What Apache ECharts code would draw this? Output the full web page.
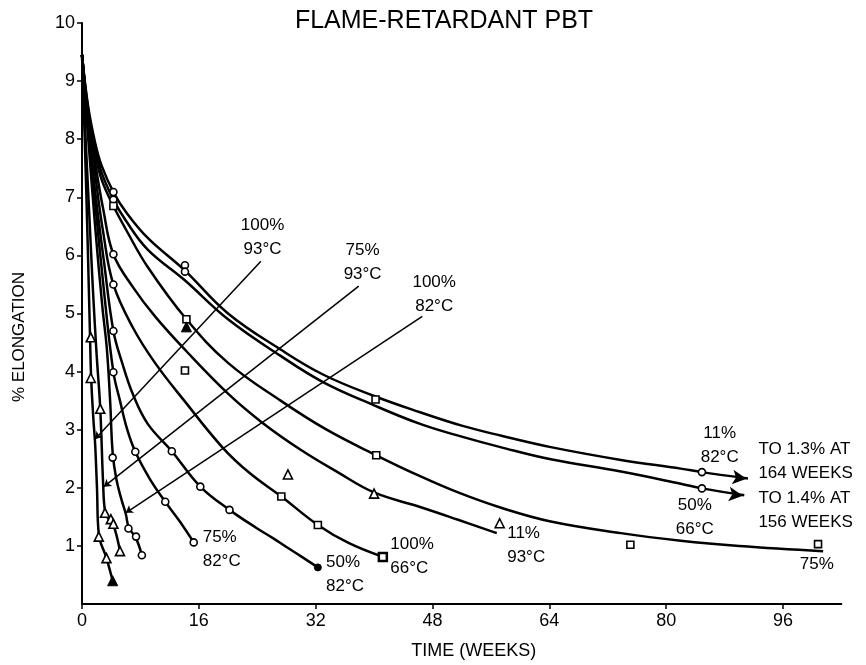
<!DOCTYPE html>
<html>
<head>
<meta charset="utf-8">
<script src="https://cdn.jsdelivr.net/npm/echarts@6/dist/echarts.min.js"></script>
<style>
  html, body { margin: 0; padding: 0; background: #fff; }
  #chart { width: 866px; height: 665px; }
</style>
</head>
<body>
<div id="chart"></div>
<script>
// Axis ticks
const weekTicks = [0, 16, 32, 48, 64, 80, 96];
const elongationTicks = [1, 2, 3, 4, 5, 6, 7, 8, 9, 10];

// Elongation curves: [time in weeks, % elongation]
const rh11at82 = [[0, 9.45], [0.8, 8.6], [1.8, 7.94], [2.7, 7.54], [4.3, 7.09], [6, 6.75], [9, 6.3], [14, 5.75], [20, 5.0], [27.2, 4.38], [33, 3.95], [40, 3.58], [46.3, 3.3], [52, 3.07], [57.3, 2.9], [64.2, 2.7], [73.8, 2.48], [82, 2.33], [84.9, 2.27], [91.2, 2.16]];
const rh50at66 = [[0, 9.45], [0.8, 8.55], [1.8, 7.85], [2.7, 7.42], [4.3, 6.96], [6, 6.6], [9, 6.1], [14, 5.58], [20, 4.9], [27.2, 4.27], [33, 3.82], [40, 3.42], [46.3, 3.1], [52, 2.88], [57.3, 2.7], [64.2, 2.49], [73.8, 2.28], [82, 2.07], [84.9, 1.99], [90.7, 1.87]];
const rh75at66 = [[0, 9.45], [0.8, 8.5], [1.8, 7.75], [2.7, 7.3], [4.3, 6.85], [6, 6.45], [9, 5.8], [14.3, 4.9], [20, 4.15], [27.2, 3.5], [33.5, 3.0], [40.3, 2.56], [46.3, 2.2], [51.5, 1.92], [57.3, 1.66], [64.2, 1.42], [73.8, 1.22], [82, 1.09], [90, 1.0], [101.5, 0.91]];
const rh11at93 = [[0, 9.45], [0.8, 8.45], [1.8, 7.6], [2.9, 6.8], [4.3, 6.02], [7, 5.45], [10, 4.95], [14.3, 4.35], [20, 3.62], [24.6, 3.13], [30, 2.65], [35, 2.27], [40, 1.92], [46.3, 1.67], [51.5, 1.45], [56.8, 1.22]];
const rh100at66 = [[0, 9.45], [0.8, 8.4], [1.8, 7.4], [2.9, 6.4], [4.3, 5.5], [7, 4.75], [10, 4.15], [14, 3.5], [19.35, 2.68], [23, 2.25], [27.3, 1.85], [32.3, 1.36], [36.5, 1.05], [41.2, 0.81]];
const rh50at82 = [[0, 9.45], [0.8, 8.3], [1.8, 7.1], [3.0, 5.9], [4.3, 4.7], [5.5, 4.15], [7, 3.6], [9, 3.1], [12.3, 2.63], [16.2, 2.02], [20.2, 1.62], [24, 1.3], [26.2, 1.13], [28, 0.98], [30, 0.82], [32.3, 0.63]];
const rh75at82 = [[0, 9.45], [0.8, 8.2], [1.8, 6.9], [3.0, 5.4], [4.3, 3.99], [5.2, 3.5], [6.2, 3.0], [7.3, 2.62], [9.3, 2.15], [11.4, 1.76], [13.4, 1.42], [15.3, 1.06]];
const rh100at82 = [[0, 9.45], [0.8, 8.1], [1.8, 6.5], [2.8, 5.1], [3.4, 4.4], [3.85, 3.5], [4.2, 2.6], [4.7, 2.15], [5.4, 1.8], [6.0, 1.55], [6.4, 1.32], [7.4, 1.13], [8.2, 0.84]];
const rh75at93 = [[0, 9.45], [0.5, 8.0], [1.0, 6.7], [1.5, 5.4], [2.0, 4.3], [2.5, 3.36], [2.9, 2.05], [3.15, 1.6], [3.6, 1.47], [4.3, 1.36], [5.2, 0.91]];
const rh100at93 = [[0, 9.45], [0.4, 7.9], [0.8, 6.1], [1.1, 4.6], [1.25, 3.9], [1.55, 3.2], [1.8, 2.75], [2.05, 2.0], [2.3, 1.2], [3.35, 0.79], [4.2, 0.4]];

// Measured points, grouped by marker
const openCirclePoints = [[4.3, 7.09], [4.3, 6.96], [4.3, 6.02], [4.3, 5.5], [4.3, 4.7], [4.3, 3.99], [4.2, 2.52], [6.36, 1.3], [7.4, 1.16], [8.2, 0.84], [7.3, 2.62], [11.4, 1.76], [15.3, 1.06], [12.3, 2.63], [16.2, 2.02], [20.2, 1.62], [14.1, 5.83], [14.1, 5.72], [84.9, 2.27], [84.9, 1.99]];
const openSquarePoints = [[4.3, 6.85], [14.3, 4.9], [14.1, 4.02], [40.2, 3.52], [40.3, 2.56], [27.3, 1.85], [32.3, 1.36], [75.1, 1.02], [100.8, 1.03]];
const boldSquarePoints = [[41.2, 0.81]];
const openTrianglePoints = [[1.2, 4.59], [1.2, 3.89], [2.3, 1.16], [3.35, 0.79], [2.5, 3.36], [3.15, 1.57], [3.95, 1.46], [4.3, 1.38], [5.2, 0.91], [28.2, 2.23], [40, 1.9], [57.2, 1.39]];
const filledTrianglePoints = [[4.2, 0.4], [14.3, 4.77]];
const filledCirclePoints = [[32.3, 0.63]];

// Arrow heads on the two curves that run past the plotted range
const arrowHeads = [[91.0, 2.155], [90.5, 1.865]];

// Condition labels and their leader lines
const conditionLabels = ['100%\n93°C', '75%\n93°C', '100%\n82°C', '75%\n82°C', '50%\n82°C', '100%\n66°C', '11%\n93°C', '11%\n82°C', '50%\n66°C', 'TO 1.3% AT\n164 WEEKS', 'TO 1.4% AT\n156 WEEKS', '75%'];
const conditionAnchors = [[24.8, 6.31], [38.5, 5.87], [48.3, 5.33], [16.6, 0.94], [33.5, 0.5], [42.3, 0.82], [58.3, 1.01], [87.4, 2.73], [84.0, 1.49], [92.7, 2.45], [92.7, 1.6], [100.7, 0.67]];
const conditionAlign = ['center', 'center', 'center', 'left', 'left', 'left', 'left', 'center', 'center', 'left', 'left', 'center'];
const leaderFrom = [[24.5, 5.9], [37.9, 5.47], [46.6, 4.95]];
const leaderTo = [[1.8, 2.84], [3.0, 2.02], [6.0, 1.57]];

const INK = '#000';
const FONT = '"Liberation Sans", Arial, Helvetica, sans-serif';

const curves = [rh11at82, rh50at66, rh75at66, rh11at93, rh100at66, rh50at82, rh75at82, rh100at82, rh75at93, rh100at93];

const series = curves.map(function (pts) {
  return {
    type: 'line',
    data: pts,
    smooth: 0.4,
    symbol: 'none',
    lineStyle: { color: INK, width: 2.5 },
    z: 2,
    silent: true
  };
});

function markerSeries(points, symbol, size, fill, border) {
  return {
    type: 'scatter',
    data: points,
    symbol: symbol,
    symbolSize: size,
    itemStyle: { color: fill, borderColor: INK, borderWidth: border, opacity: 1 },
    z: 4,
    silent: true
  };
}

series.push(markerSeries(openCirclePoints, 'circle', 7, '#fff', 1.6));
series.push(markerSeries(openSquarePoints, 'rect', 7, '#fff', 1.6));
series.push(markerSeries(boldSquarePoints, 'rect', 8, '#fff', 2.5));
series.push(markerSeries(openTrianglePoints, 'triangle', 9, '#fff', 1.6));
series.push(markerSeries(filledTrianglePoints, 'triangle', 10, INK, 1));
series.push(markerSeries(filledCirclePoints, 'circle', 7, INK, 1));

series.push({
  type: 'scatter',
  data: arrowHeads,
  symbol: 'arrow',
  symbolSize: [11, 14],
  symbolRotate: -97,
  itemStyle: { color: INK, opacity: 1 },
  z: 4,
  silent: true
});

// Leader lines from the upper labels down to their curves
series.push({
  type: 'line',
  data: [],
  silent: true,
  markLine: {
    silent: true,
    symbol: ['none', 'arrow'],
    symbolSize: 7,
    label: { show: false },
    lineStyle: { color: INK, width: 1.5, type: 'solid', opacity: 1 },
    emphasis: { disabled: true },
    data: leaderFrom.map(function (f, i) {
      return [{ coord: f }, { coord: leaderTo[i] }];
    })
  }
});

// Condition labels
series.push({
  type: 'scatter',
  symbolSize: 1,
  itemStyle: { color: 'rgba(0,0,0,0)', opacity: 1 },
  silent: true,
  z: 5,
  data: conditionAnchors.map(function (p, i) {
    return {
      name: conditionLabels[i],
      value: p,
      label: { align: conditionAlign[i] }
    };
  }),
  label: {
    show: true,
    position: [0, 0],
    formatter: '{b}',
    verticalAlign: 'middle',
    color: INK,
    opacity: 1,
    fontFamily: FONT,
    fontSize: 17,
    lineHeight: 24
  }
});

const chart = echarts.init(document.getElementById('chart'), null, { renderer: 'canvas' });

chart.setOption({
  animation: false,
  backgroundColor: '#fff',
  title: {
    text: 'FLAME-RETARDANT PBT',
    left: 439,
    top: 4,
    textAlign: 'center',
    textStyle: { fontFamily: FONT, fontSize: 25, fontWeight: 'normal', color: INK }
  },
  grid: { left: 82, top: 23, width: 759.4, height: 583 },
  xAxis: {
    type: 'value',
    min: 0,
    max: 104,
    interval: 16,
    splitLine: { show: false },
    axisLine: { lineStyle: { color: INK, width: 2 } },
    axisTick: { length: 5, lineStyle: { color: INK, width: 1.5 }, customValues: weekTicks },
    axisLabel: { customValues: weekTicks, margin: 8, color: INK, fontFamily: FONT, fontSize: 18 },
    name: 'TIME (WEEKS)',
    nameLocation: 'middle',
    nameGap: 38,
    nameTextStyle: { fontFamily: FONT, fontSize: 18, color: INK, padding: [0, 0, 0, 24] }
  },
  yAxis: {
    type: 'value',
    min: 0,
    max: 10,
    interval: 1,
    splitLine: { show: false },
    axisLine: { lineStyle: { color: INK, width: 2 } },
    axisTick: { length: 5, lineStyle: { color: INK, width: 1.5 }, customValues: elongationTicks },
    axisLabel: { customValues: elongationTicks, margin: 7, color: INK, fontFamily: FONT, fontSize: 18 }
  },
  graphic: [{
    type: 'text',
    x: 19,
    y: 337,
    rotation: Math.PI / 2,
    style: {
      text: '% ELONGATION',
      fill: INK,
      font: '17px ' + FONT,
      align: 'center',
      verticalAlign: 'middle'
    }
  }],
  series: series
});
</script>
</body>
</html>
